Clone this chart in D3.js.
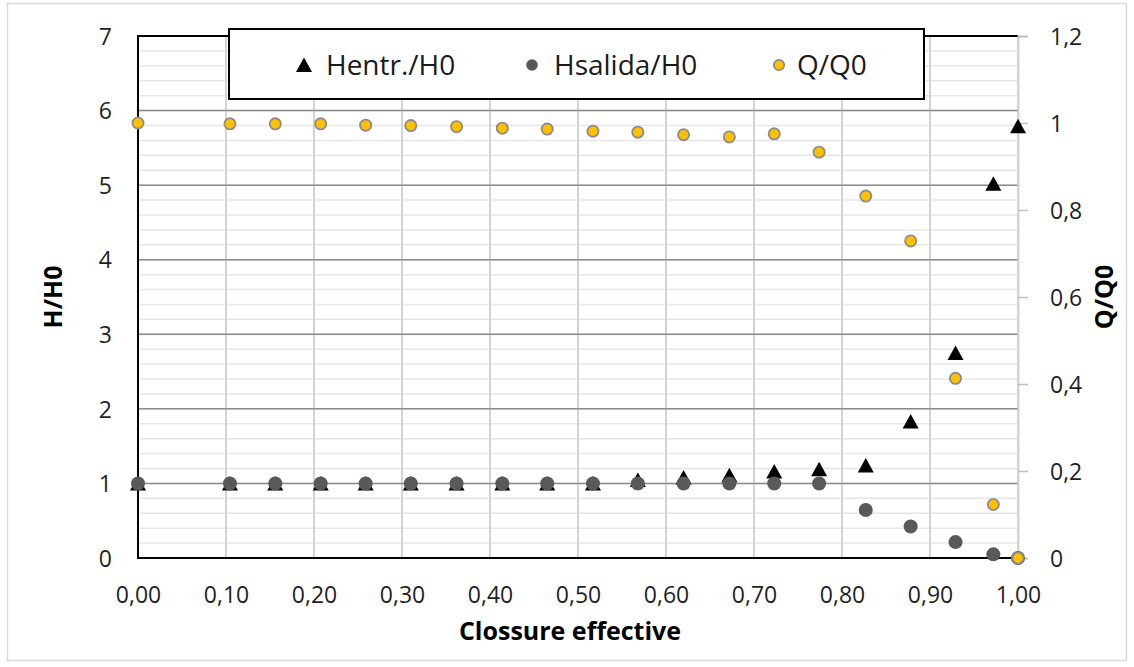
<!DOCTYPE html>
<html>
<head>
<meta charset="utf-8">
<script src="https://cdn.jsdelivr.net/npm/d3@7"></script>
<style>
  html, body { margin: 0; padding: 0; background: #fff; }
  svg { display: block; font-family: "Open Sans", "Noto Sans", sans-serif; }
</style>
</head>
<body>
<svg id="chart" width="1134" height="667"></svg>
<script>
// Effective closure of the valve (x axis)
const closure = [0, 0.1045, 0.156, 0.2076, 0.2587, 0.31, 0.362, 0.414, 0.465, 0.517,
                 0.568, 0.620, 0.672, 0.723, 0.774, 0.827, 0.878, 0.929, 0.972, 1.0];
// Upstream head ratio (left axis)
const hEntr = [1, 1, 1, 1, 1, 1, 1, 1, 1, 1,
               1.045, 1.08, 1.11, 1.16, 1.19, 1.24, 1.83, 2.75, 5.02, 5.79];
// Downstream head ratio (left axis)
const hSalida = [1, 1, 1, 1, 1, 1, 1, 1, 1, 1,
                 1, 1, 1, 1, 1, 0.644, 0.422, 0.213, 0.049, 0];
// Flow ratio (right axis)
const qRatio = [1.0, 0.998, 0.998, 0.998, 0.995, 0.994, 0.9915, 0.988, 0.986, 0.981,
                0.979, 0.973, 0.968, 0.975, 0.933, 0.832, 0.729, 0.413, 0.123, 0.0];

const xTicks = [0, 0.1, 0.2, 0.3, 0.4, 0.5, 0.6, 0.7, 0.8, 0.9, 1.0];
const yLeftTicks = [0, 1, 2, 3, 4, 5, 6, 7];
const yLeftMinor = d3.range(0, 7.0001, 0.2);
const yRightTicks = [0, 0.2, 0.4, 0.6, 0.8, 1.0, 1.2];

const seriesNames = ["Hentr./H0", "Hsalida/H0", "Q/Q0"];
const xTitle = "Clossure effective";
const yLeftTitle = "H/H0";
const yRightTitle = "Q/Q0";

const locale = d3.formatLocale({ decimal: ",", thousands: ".", grouping: [3], currency: ["", ""] });
const fmtX = locale.format(".2f");
const fmtR = locale.format("~g");

const svg = d3.select("#chart");
const plot = { left: 138, right: 1018, top: 36, bottom: 558 };
const tickFont = 23;

const x = d3.scaleLinear().domain([0, 1]).range([plot.left, plot.right]);
const yL = d3.scaleLinear().domain([0, 7]).range([plot.bottom, plot.top]);
const yR = d3.scaleLinear().domain([0, 1.2]).range([plot.bottom, plot.top]);

// outer chart border
svg.append("rect")
  .attr("x", 7.5).attr("y", 3.5).attr("width", 1119).attr("height", 657)
  .attr("fill", "#fff").attr("stroke", "#d9d9d9").attr("stroke-width", 1.5);

const grid = svg.append("g");

// minor horizontal gridlines
grid.selectAll("line.minor").data(yLeftMinor).join("line")
  .attr("class", "minor")
  .attr("x1", plot.left).attr("x2", plot.right)
  .attr("y1", d => yL(d)).attr("y2", d => yL(d))
  .attr("stroke", "#e6e6e6").attr("stroke-width", 1.5);

// vertical gridlines
grid.selectAll("line.vert").data(xTicks).join("line")
  .attr("class", "vert")
  .attr("x1", d => x(d)).attr("x2", d => x(d))
  .attr("y1", plot.top).attr("y2", plot.bottom)
  .attr("stroke", "#d4d4d4").attr("stroke-width", 2);

// major horizontal gridlines
grid.selectAll("line.major").data(yLeftTicks.slice(1, -1)).join("line")
  .attr("class", "major")
  .attr("x1", plot.left).attr("x2", plot.right)
  .attr("y1", d => yL(d)).attr("y2", d => yL(d))
  .attr("stroke", "#8a8a8a").attr("stroke-width", 1.5);

// frame: left, top and bottom in black
const frame = svg.append("g").attr("stroke", "#000").attr("stroke-width", 2);
frame.append("line").attr("x1", plot.left).attr("x2", plot.left).attr("y1", plot.top - 1).attr("y2", plot.bottom + 1);
frame.append("line").attr("x1", plot.left).attr("x2", plot.right).attr("y1", plot.top).attr("y2", plot.top);
frame.append("line").attr("x1", plot.left).attr("x2", plot.right).attr("y1", plot.bottom).attr("y2", plot.bottom);

// bottom axis labels
const xAxis = d3.axisBottom(x).tickValues(xTicks).tickFormat(fmtX).tickSize(0).tickPadding(0);
const gx = svg.append("g").attr("transform", `translate(0,${plot.bottom})`).call(xAxis);
gx.select(".domain").remove();
gx.selectAll("text").attr("dy", null).attr("y", 45)
  .attr("font-size", tickFont).attr("fill", "#1f1f1f").attr("font-family", "Open Sans");

// left axis labels
const yAxisL = d3.axisLeft(yL).tickValues(yLeftTicks).tickFormat(d3.format("d")).tickSize(0).tickPadding(0);
const gyl = svg.append("g").attr("transform", `translate(${plot.left},0)`).call(yAxisL);
gyl.select(".domain").remove();
gyl.selectAll("text").attr("x", -26).attr("dy", "0.36em")
  .attr("font-size", tickFont).attr("fill", "#1f1f1f").attr("font-family", "Open Sans");

// right axis with short gray ticks
const yAxisR = d3.axisRight(yR).tickValues(yRightTicks).tickFormat(fmtR).tickSize(10).tickPadding(22);
const gyr = svg.append("g").attr("transform", `translate(${plot.right},0)`).call(yAxisR);
gyr.select(".domain").attr("stroke", "#d4d4d4").attr("stroke-width", 2);
gyr.selectAll(".tick line").attr("stroke", "#bfbfbf").attr("stroke-width", 1.5);
gyr.selectAll("text").attr("dy", "0.36em")
  .attr("font-size", tickFont).attr("fill", "#1f1f1f").attr("font-family", "Open Sans");

// axis titles
svg.append("text").attr("x", 570).attr("y", 640).attr("text-anchor", "middle")
  .attr("font-size", 25).attr("font-weight", "bold").attr("fill", "#000").text(xTitle);
svg.append("text").attr("transform", `translate(62,${(plot.top + plot.bottom) / 2}) rotate(-90)`)
  .attr("text-anchor", "middle")
  .attr("font-size", 25).attr("font-weight", "bold").attr("fill", "#000").text(yLeftTitle);
svg.append("text").attr("transform", `translate(1113,${(plot.top + plot.bottom) / 2}) rotate(-90)`)
  .attr("text-anchor", "middle")
  .attr("font-size", 25).attr("font-weight", "bold").attr("fill", "#000").text(yRightTitle);

// marker shapes
const triPath = (cx, cy) => `M${cx},${cy - 7.5} L${cx + 8},${cy + 7} L${cx - 8},${cy + 7} Z`;

const data = closure.map((c, i) => ({ c, he: hEntr[i], hs: hSalida[i], q: qRatio[i] }));

// series 1: upstream head (triangles)
svg.append("g").selectAll("path").data(data).join("path")
  .attr("d", d => triPath(x(d.c), yL(d.he)))
  .attr("fill", "#000");

// series 2: downstream head (dark gray circles)
svg.append("g").selectAll("circle").data(data).join("circle")
  .attr("cx", d => x(d.c)).attr("cy", d => yL(d.hs)).attr("r", 7)
  .attr("fill", "#595959");

// series 3: flow ratio (gold circles, right axis)
svg.append("g").selectAll("circle").data(data).join("circle")
  .attr("cx", d => x(d.c)).attr("cy", d => yR(d.q)).attr("r", 5.6)
  .attr("fill", "#ffc000").attr("stroke", "#8c8c8c").attr("stroke-width", 1.8);

// legend
const leg = svg.append("g");
leg.append("rect").attr("x", 229).attr("y", 29).attr("width", 695).attr("height", 70)
  .attr("fill", "#fff").attr("stroke", "#000").attr("stroke-width", 2);
const legY = 65;
const legItems = [
  { name: seriesNames[0], mx: 304, tx: 326, kind: "tri" },
  { name: seriesNames[1], mx: 532, tx: 554, kind: "dot" },
  { name: seriesNames[2], mx: 779, tx: 797, kind: "q" }
];
legItems.forEach(it => {
  if (it.kind === "tri") {
    leg.append("path").attr("d", triPath(it.mx, legY)).attr("fill", "#000");
  } else if (it.kind === "dot") {
    leg.append("circle").attr("cx", it.mx).attr("cy", legY).attr("r", 5.8).attr("fill", "#595959");
  } else {
    leg.append("circle").attr("cx", it.mx).attr("cy", legY).attr("r", 5.2)
      .attr("fill", "#ffc000").attr("stroke", "#8c8c8c").attr("stroke-width", 1.8);
  }
  leg.append("text").attr("x", it.tx).attr("y", legY + 10)
    .attr("font-size", 28).attr("fill", "#1a1a1a").text(it.name);
});
</script>
</body>
</html>
